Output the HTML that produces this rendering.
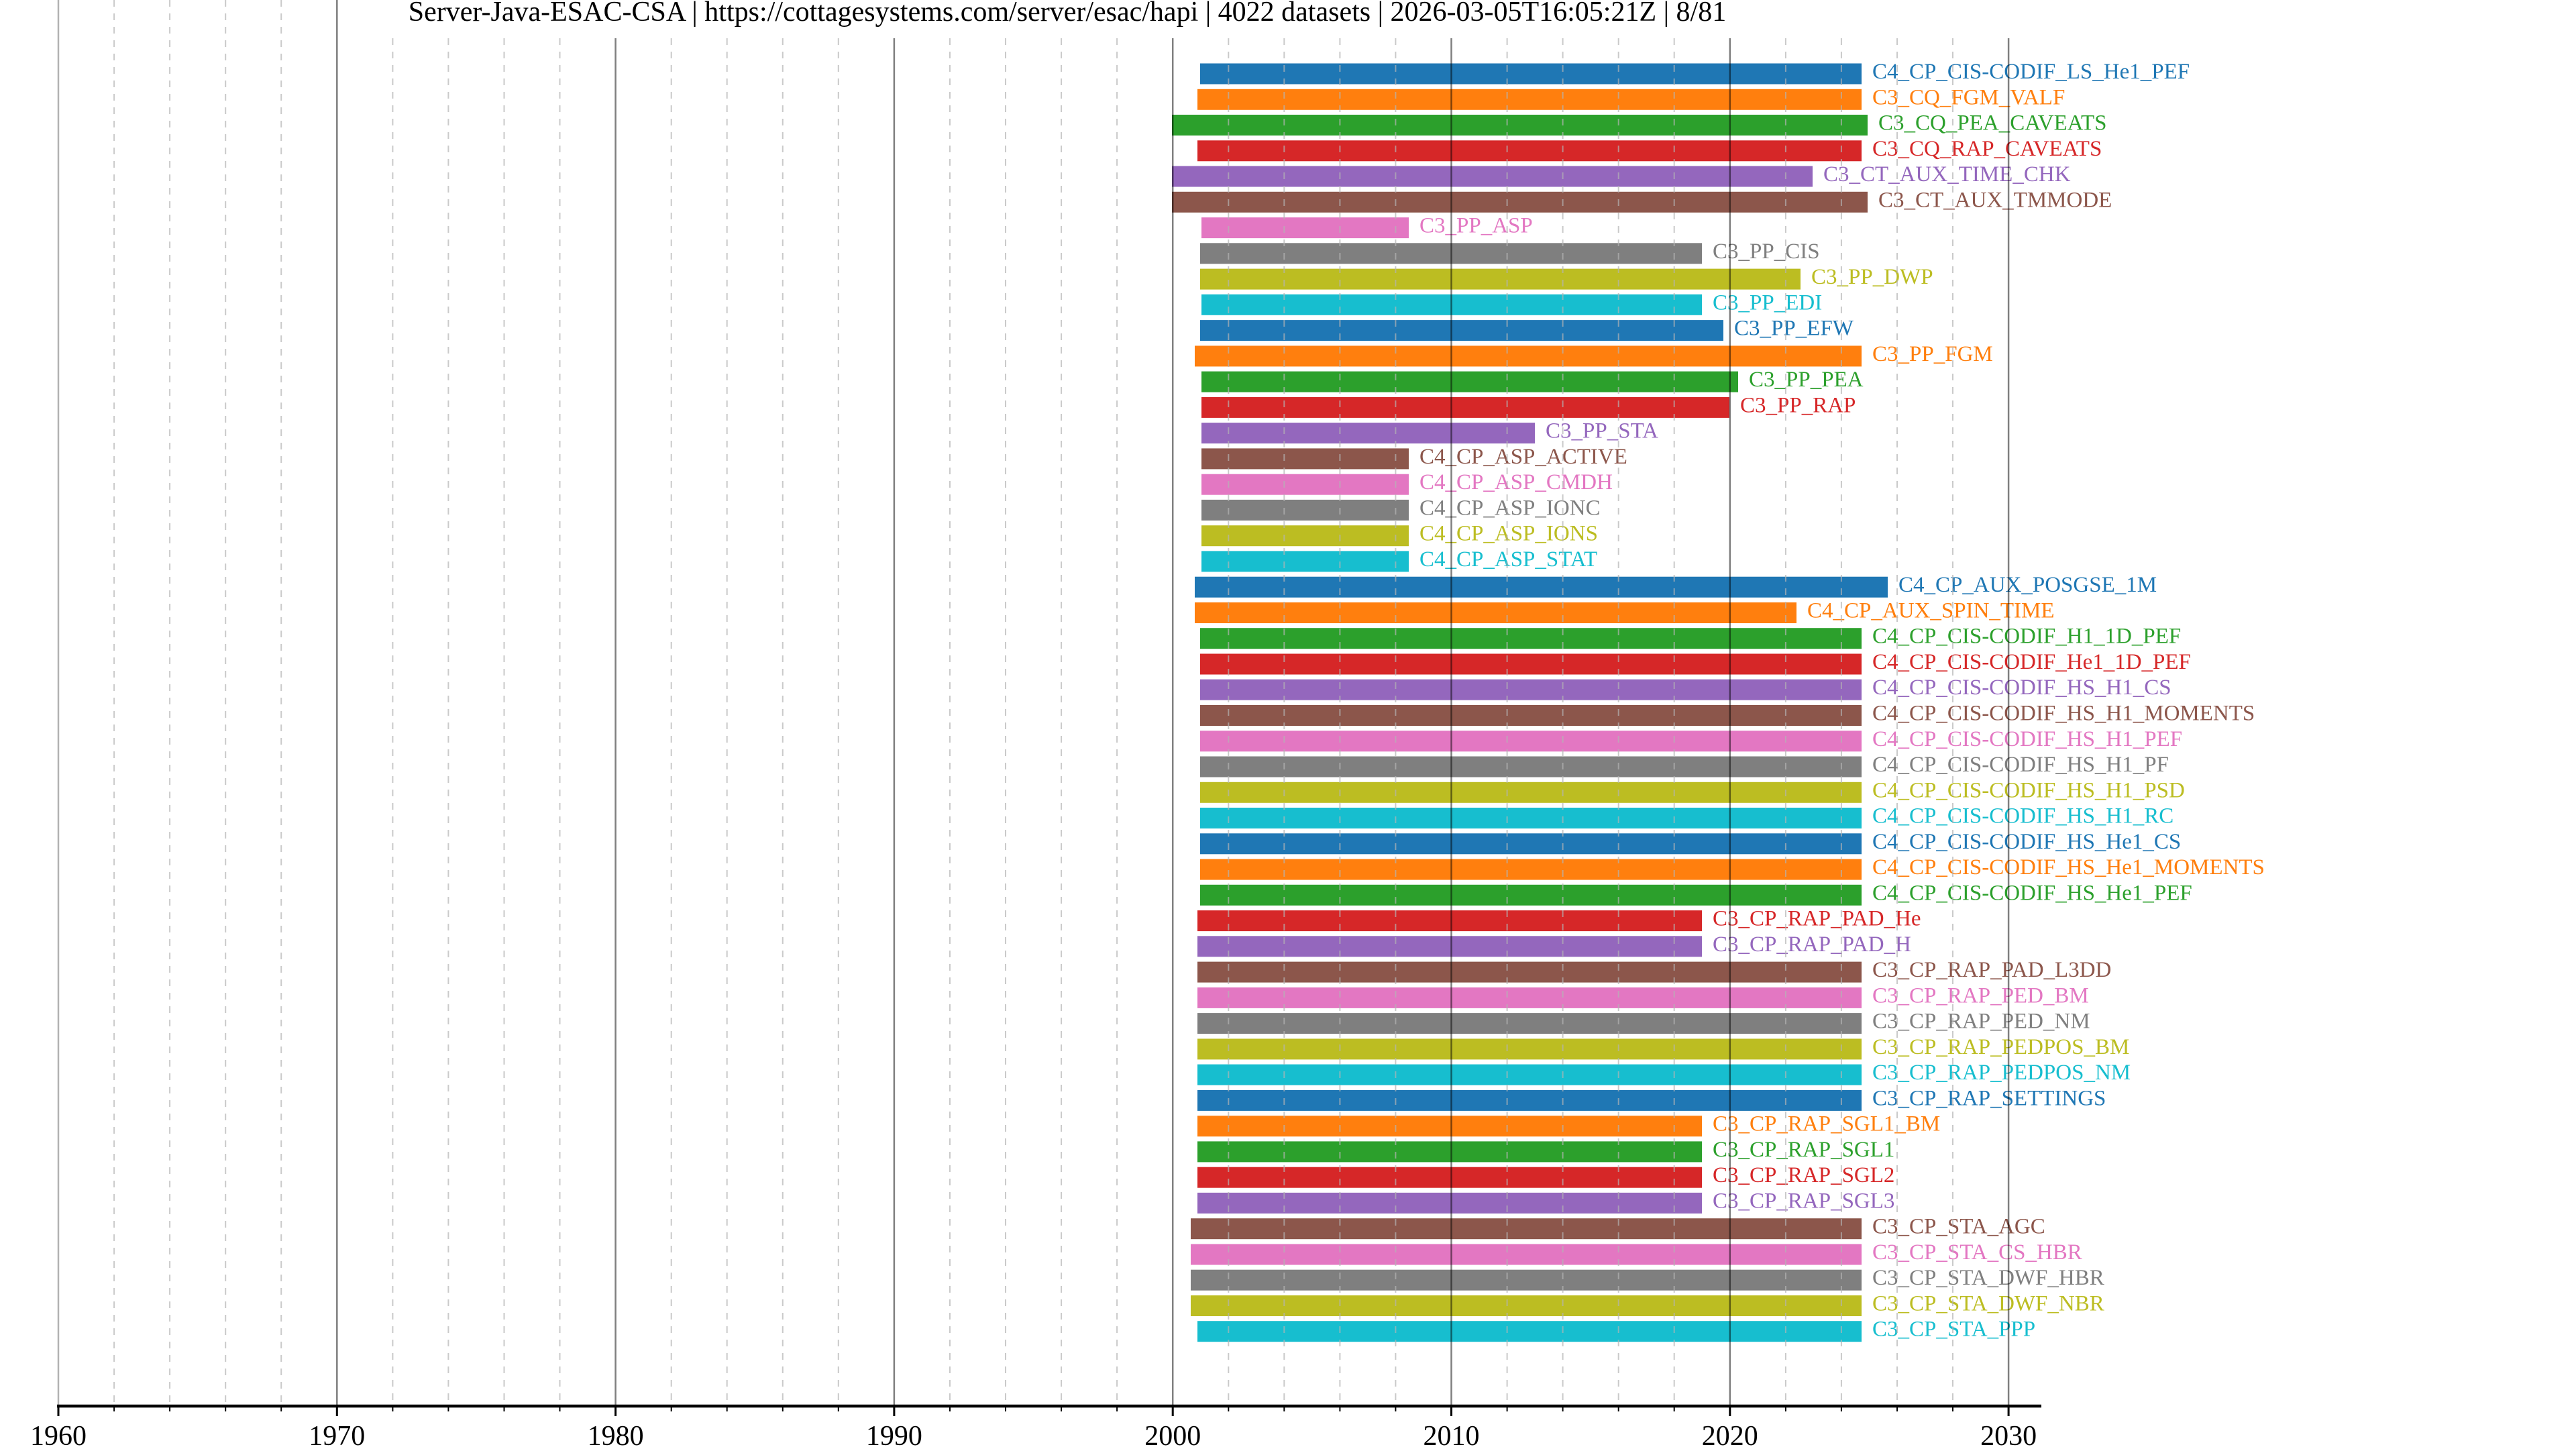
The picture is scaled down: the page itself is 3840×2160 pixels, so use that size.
<!DOCTYPE html>
<html><head><meta charset="utf-8"><style>html,body{margin:0;padding:0;background:#fff}svg{display:block}</style></head>
<body>
<svg width="3840" height="2160" viewBox="0 0 3840 2160" xmlns="http://www.w3.org/2000/svg" font-family="Liberation Serif, serif">
<rect width="3840" height="2160" fill="#fff"/>

<g font-size="33">
<g transform="translate(0,110)"><rect x="1789" y="-15.5" width="986" height="31" fill="#1f77b4"/><text x="2791" y="7" fill="#1f77b4">C4_CP_CIS-CODIF_LS_He1_PEF</text></g>
<g transform="translate(0,148.3)"><rect x="1785" y="-15.5" width="990" height="31" fill="#ff7f0e"/><text x="2791" y="7" fill="#ff7f0e">C3_CQ_FGM_VALF</text></g>
<g transform="translate(0,186.5)"><rect x="1747" y="-15.5" width="1037" height="31" fill="#2ca02c"/><text x="2800" y="7" fill="#2ca02c">C3_CQ_PEA_CAVEATS</text></g>
<g transform="translate(0,224.8)"><rect x="1785" y="-15.5" width="990" height="31" fill="#d62728"/><text x="2791" y="7" fill="#d62728">C3_CQ_RAP_CAVEATS</text></g>
<g transform="translate(0,263)"><rect x="1747" y="-15.5" width="955" height="31" fill="#9467bd"/><text x="2718" y="7" fill="#9467bd">C3_CT_AUX_TIME_CHK</text></g>
<g transform="translate(0,301.3)"><rect x="1747" y="-15.5" width="1037" height="31" fill="#8c564b"/><text x="2800" y="7" fill="#8c564b">C3_CT_AUX_TMMODE</text></g>
<g transform="translate(0,339.6)"><rect x="1791" y="-15.5" width="309" height="31" fill="#e377c2"/><text x="2116" y="7" fill="#e377c2">C3_PP_ASP</text></g>
<g transform="translate(0,377.8)"><rect x="1789" y="-15.5" width="748" height="31" fill="#7f7f7f"/><text x="2553" y="7" fill="#7f7f7f">C3_PP_CIS</text></g>
<g transform="translate(0,416.1)"><rect x="1789" y="-15.5" width="895" height="31" fill="#bcbd22"/><text x="2700" y="7" fill="#bcbd22">C3_PP_DWP</text></g>
<g transform="translate(0,454.3)"><rect x="1791" y="-15.5" width="746" height="31" fill="#17becf"/><text x="2553" y="7" fill="#17becf">C3_PP_EDI</text></g>
<g transform="translate(0,492.6)"><rect x="1789" y="-15.5" width="780" height="31" fill="#1f77b4"/><text x="2585" y="7" fill="#1f77b4">C3_PP_EFW</text></g>
<g transform="translate(0,530.9)"><rect x="1781" y="-15.5" width="994" height="31" fill="#ff7f0e"/><text x="2791" y="7" fill="#ff7f0e">C3_PP_FGM</text></g>
<g transform="translate(0,569.1)"><rect x="1791" y="-15.5" width="800" height="31" fill="#2ca02c"/><text x="2607" y="7" fill="#2ca02c">C3_PP_PEA</text></g>
<g transform="translate(0,607.4)"><rect x="1791" y="-15.5" width="787" height="31" fill="#d62728"/><text x="2594" y="7" fill="#d62728">C3_PP_RAP</text></g>
<g transform="translate(0,645.6)"><rect x="1791" y="-15.5" width="497" height="31" fill="#9467bd"/><text x="2304" y="7" fill="#9467bd">C3_PP_STA</text></g>
<g transform="translate(0,683.9)"><rect x="1791" y="-15.5" width="309" height="31" fill="#8c564b"/><text x="2116" y="7" fill="#8c564b">C4_CP_ASP_ACTIVE</text></g>
<g transform="translate(0,722.2)"><rect x="1791" y="-15.5" width="309" height="31" fill="#e377c2"/><text x="2116" y="7" fill="#e377c2">C4_CP_ASP_CMDH</text></g>
<g transform="translate(0,760.4)"><rect x="1791" y="-15.5" width="309" height="31" fill="#7f7f7f"/><text x="2116" y="7" fill="#7f7f7f">C4_CP_ASP_IONC</text></g>
<g transform="translate(0,798.7)"><rect x="1791" y="-15.5" width="309" height="31" fill="#bcbd22"/><text x="2116" y="7" fill="#bcbd22">C4_CP_ASP_IONS</text></g>
<g transform="translate(0,836.9)"><rect x="1791" y="-15.5" width="309" height="31" fill="#17becf"/><text x="2116" y="7" fill="#17becf">C4_CP_ASP_STAT</text></g>
<g transform="translate(0,875.2)"><rect x="1781" y="-15.5" width="1033" height="31" fill="#1f77b4"/><text x="2830" y="7" fill="#1f77b4">C4_CP_AUX_POSGSE_1M</text></g>
<g transform="translate(0,913.5)"><rect x="1781" y="-15.5" width="897" height="31" fill="#ff7f0e"/><text x="2694" y="7" fill="#ff7f0e">C4_CP_AUX_SPIN_TIME</text></g>
<g transform="translate(0,951.7)"><rect x="1789" y="-15.5" width="986" height="31" fill="#2ca02c"/><text x="2791" y="7" fill="#2ca02c">C4_CP_CIS-CODIF_H1_1D_PEF</text></g>
<g transform="translate(0,990)"><rect x="1789" y="-15.5" width="986" height="31" fill="#d62728"/><text x="2791" y="7" fill="#d62728">C4_CP_CIS-CODIF_He1_1D_PEF</text></g>
<g transform="translate(0,1028.2)"><rect x="1789" y="-15.5" width="986" height="31" fill="#9467bd"/><text x="2791" y="7" fill="#9467bd">C4_CP_CIS-CODIF_HS_H1_CS</text></g>
<g transform="translate(0,1066.5)"><rect x="1789" y="-15.5" width="986" height="31" fill="#8c564b"/><text x="2791" y="7" fill="#8c564b">C4_CP_CIS-CODIF_HS_H1_MOMENTS</text></g>
<g transform="translate(0,1104.8)"><rect x="1789" y="-15.5" width="986" height="31" fill="#e377c2"/><text x="2791" y="7" fill="#e377c2">C4_CP_CIS-CODIF_HS_H1_PEF</text></g>
<g transform="translate(0,1143)"><rect x="1789" y="-15.5" width="986" height="31" fill="#7f7f7f"/><text x="2791" y="7" fill="#7f7f7f">C4_CP_CIS-CODIF_HS_H1_PF</text></g>
<g transform="translate(0,1181.3)"><rect x="1789" y="-15.5" width="986" height="31" fill="#bcbd22"/><text x="2791" y="7" fill="#bcbd22">C4_CP_CIS-CODIF_HS_H1_PSD</text></g>
<g transform="translate(0,1219.5)"><rect x="1789" y="-15.5" width="986" height="31" fill="#17becf"/><text x="2791" y="7" fill="#17becf">C4_CP_CIS-CODIF_HS_H1_RC</text></g>
<g transform="translate(0,1257.8)"><rect x="1789" y="-15.5" width="986" height="31" fill="#1f77b4"/><text x="2791" y="7" fill="#1f77b4">C4_CP_CIS-CODIF_HS_He1_CS</text></g>
<g transform="translate(0,1296.1)"><rect x="1789" y="-15.5" width="986" height="31" fill="#ff7f0e"/><text x="2791" y="7" fill="#ff7f0e">C4_CP_CIS-CODIF_HS_He1_MOMENTS</text></g>
<g transform="translate(0,1334.3)"><rect x="1789" y="-15.5" width="986" height="31" fill="#2ca02c"/><text x="2791" y="7" fill="#2ca02c">C4_CP_CIS-CODIF_HS_He1_PEF</text></g>
<g transform="translate(0,1372.6)"><rect x="1785" y="-15.5" width="752" height="31" fill="#d62728"/><text x="2553" y="7" fill="#d62728">C3_CP_RAP_PAD_He</text></g>
<g transform="translate(0,1410.8)"><rect x="1785" y="-15.5" width="752" height="31" fill="#9467bd"/><text x="2553" y="7" fill="#9467bd">C3_CP_RAP_PAD_H</text></g>
<g transform="translate(0,1449.1)"><rect x="1785" y="-15.5" width="990" height="31" fill="#8c564b"/><text x="2791" y="7" fill="#8c564b">C3_CP_RAP_PAD_L3DD</text></g>
<g transform="translate(0,1487.4)"><rect x="1785" y="-15.5" width="990" height="31" fill="#e377c2"/><text x="2791" y="7" fill="#e377c2">C3_CP_RAP_PED_BM</text></g>
<g transform="translate(0,1525.6)"><rect x="1785" y="-15.5" width="990" height="31" fill="#7f7f7f"/><text x="2791" y="7" fill="#7f7f7f">C3_CP_RAP_PED_NM</text></g>
<g transform="translate(0,1563.9)"><rect x="1785" y="-15.5" width="990" height="31" fill="#bcbd22"/><text x="2791" y="7" fill="#bcbd22">C3_CP_RAP_PEDPOS_BM</text></g>
<g transform="translate(0,1602.1)"><rect x="1785" y="-15.5" width="990" height="31" fill="#17becf"/><text x="2791" y="7" fill="#17becf">C3_CP_RAP_PEDPOS_NM</text></g>
<g transform="translate(0,1640.4)"><rect x="1785" y="-15.5" width="990" height="31" fill="#1f77b4"/><text x="2791" y="7" fill="#1f77b4">C3_CP_RAP_SETTINGS</text></g>
<g transform="translate(0,1678.7)"><rect x="1785" y="-15.5" width="752" height="31" fill="#ff7f0e"/><text x="2553" y="7" fill="#ff7f0e">C3_CP_RAP_SGL1_BM</text></g>
<g transform="translate(0,1716.9)"><rect x="1785" y="-15.5" width="752" height="31" fill="#2ca02c"/><text x="2553" y="7" fill="#2ca02c">C3_CP_RAP_SGL1</text></g>
<g transform="translate(0,1755.2)"><rect x="1785" y="-15.5" width="752" height="31" fill="#d62728"/><text x="2553" y="7" fill="#d62728">C3_CP_RAP_SGL2</text></g>
<g transform="translate(0,1793.4)"><rect x="1785" y="-15.5" width="752" height="31" fill="#9467bd"/><text x="2553" y="7" fill="#9467bd">C3_CP_RAP_SGL3</text></g>
<g transform="translate(0,1831.7)"><rect x="1775" y="-15.5" width="1000" height="31" fill="#8c564b"/><text x="2791" y="7" fill="#8c564b">C3_CP_STA_AGC</text></g>
<g transform="translate(0,1870)"><rect x="1775" y="-15.5" width="1000" height="31" fill="#e377c2"/><text x="2791" y="7" fill="#e377c2">C3_CP_STA_CS_HBR</text></g>
<g transform="translate(0,1908.2)"><rect x="1775" y="-15.5" width="1000" height="31" fill="#7f7f7f"/><text x="2791" y="7" fill="#7f7f7f">C3_CP_STA_DWF_HBR</text></g>
<g transform="translate(0,1946.5)"><rect x="1775" y="-15.5" width="1000" height="31" fill="#bcbd22"/><text x="2791" y="7" fill="#bcbd22">C3_CP_STA_DWF_NBR</text></g>
<g transform="translate(0,1984.7)"><rect x="1785" y="-15.5" width="990" height="31" fill="#17becf"/><text x="2791" y="7" fill="#17becf">C3_CP_STA_PPP</text></g>
</g>

<!-- minor grid -->
<g stroke="#b4b4b4" stroke-opacity="0.7" stroke-width="2" stroke-dasharray="10,10">
<line x1="170.1" y1="0" x2="170.1" y2="2096"/><line x1="253.1" y1="0" x2="253.1" y2="2096"/><line x1="336.2" y1="0" x2="336.2" y2="2096"/><line x1="419.2" y1="0" x2="419.2" y2="2096"/>
<line x1="585.4" y1="57" x2="585.4" y2="2096"/><line x1="668.4" y1="57" x2="668.4" y2="2096"/><line x1="751.5" y1="57" x2="751.5" y2="2096"/><line x1="834.5" y1="57" x2="834.5" y2="2096"/>
<line x1="1000.7" y1="57" x2="1000.7" y2="2096"/><line x1="1083.7" y1="57" x2="1083.7" y2="2096"/><line x1="1166.8" y1="57" x2="1166.8" y2="2096"/><line x1="1249.8" y1="57" x2="1249.8" y2="2096"/>
<line x1="1416" y1="57" x2="1416" y2="2096"/><line x1="1499" y1="57" x2="1499" y2="2096"/><line x1="1582.1" y1="57" x2="1582.1" y2="2096"/><line x1="1665.1" y1="57" x2="1665.1" y2="2096"/>
<line x1="1831.3" y1="57" x2="1831.3" y2="2096"/><line x1="1914.3" y1="57" x2="1914.3" y2="2096"/><line x1="1997.4" y1="57" x2="1997.4" y2="2096"/><line x1="2080.4" y1="57" x2="2080.4" y2="2096"/>
<line x1="2246.6" y1="57" x2="2246.6" y2="2096"/><line x1="2329.6" y1="57" x2="2329.6" y2="2096"/><line x1="2412.7" y1="57" x2="2412.7" y2="2096"/><line x1="2495.7" y1="57" x2="2495.7" y2="2096"/>
<line x1="2661.9" y1="57" x2="2661.9" y2="2096"/><line x1="2744.9" y1="57" x2="2744.9" y2="2096"/><line x1="2828" y1="57" x2="2828" y2="2096"/><line x1="2911" y1="57" x2="2911" y2="2096"/>
</g>
<!-- major grid -->
<g stroke="#000" stroke-opacity="0.5" stroke-width="2.5">
<line x1="87" y1="0" x2="87" y2="2096" stroke-opacity="0.3"/>
<line x1="502.3" y1="0" x2="502.3" y2="2096"/><line x1="917.6" y1="57" x2="917.6" y2="2096"/><line x1="1332.9" y1="57" x2="1332.9" y2="2096"/>
<line x1="1748.2" y1="57" x2="1748.2" y2="2096"/><line x1="2163.5" y1="57" x2="2163.5" y2="2096"/><line x1="2578.8" y1="57" x2="2578.8" y2="2096"/><line x1="2994.1" y1="57" x2="2994.1" y2="2096"/>
</g>
<text x="1591" y="31" font-size="42" text-anchor="middle" fill="#000">Server-Java-ESAC-CSA | https://cottagesystems.com/server/esac/hapi | 4022 datasets | 2026-03-05T16:05:21Z | 8/81</text>
<!-- axis -->
<line x1="85" y1="2096" x2="3043" y2="2096" stroke="#000" stroke-width="4.5"/>
<g stroke="#000" stroke-width="3">
<line x1="87" y1="2096" x2="87" y2="2111"/><line x1="502.3" y1="2096" x2="502.3" y2="2111"/><line x1="917.6" y1="2096" x2="917.6" y2="2111"/><line x1="1332.9" y1="2096" x2="1332.9" y2="2111"/>
<line x1="1748.2" y1="2096" x2="1748.2" y2="2111"/><line x1="2163.5" y1="2096" x2="2163.5" y2="2111"/><line x1="2578.8" y1="2096" x2="2578.8" y2="2111"/><line x1="2994.1" y1="2096" x2="2994.1" y2="2111"/>
</g>
<g stroke="#000" stroke-width="2">
<line x1="170.1" y1="2096" x2="170.1" y2="2104"/><line x1="253.1" y1="2096" x2="253.1" y2="2104"/><line x1="336.2" y1="2096" x2="336.2" y2="2104"/><line x1="419.2" y1="2096" x2="419.2" y2="2104"/>
<line x1="585.4" y1="2096" x2="585.4" y2="2104"/><line x1="668.4" y1="2096" x2="668.4" y2="2104"/><line x1="751.5" y1="2096" x2="751.5" y2="2104"/><line x1="834.5" y1="2096" x2="834.5" y2="2104"/>
<line x1="1000.7" y1="2096" x2="1000.7" y2="2104"/><line x1="1083.7" y1="2096" x2="1083.7" y2="2104"/><line x1="1166.8" y1="2096" x2="1166.8" y2="2104"/><line x1="1249.8" y1="2096" x2="1249.8" y2="2104"/>
<line x1="1416" y1="2096" x2="1416" y2="2104"/><line x1="1499" y1="2096" x2="1499" y2="2104"/><line x1="1582.1" y1="2096" x2="1582.1" y2="2104"/><line x1="1665.1" y1="2096" x2="1665.1" y2="2104"/>
<line x1="1831.3" y1="2096" x2="1831.3" y2="2104"/><line x1="1914.3" y1="2096" x2="1914.3" y2="2104"/><line x1="1997.4" y1="2096" x2="1997.4" y2="2104"/><line x1="2080.4" y1="2096" x2="2080.4" y2="2104"/>
<line x1="2246.6" y1="2096" x2="2246.6" y2="2104"/><line x1="2329.6" y1="2096" x2="2329.6" y2="2104"/><line x1="2412.7" y1="2096" x2="2412.7" y2="2104"/><line x1="2495.7" y1="2096" x2="2495.7" y2="2104"/>
<line x1="2661.9" y1="2096" x2="2661.9" y2="2104"/><line x1="2744.9" y1="2096" x2="2744.9" y2="2104"/><line x1="2828" y1="2096" x2="2828" y2="2104"/><line x1="2911" y1="2096" x2="2911" y2="2104"/>
</g>
<g font-size="42" text-anchor="middle" fill="#000">
<text x="87" y="2154">1960</text><text x="502.3" y="2154">1970</text><text x="917.6" y="2154">1980</text><text x="1332.9" y="2154">1990</text>
<text x="1748.2" y="2154">2000</text><text x="2163.5" y="2154">2010</text><text x="2578.8" y="2154">2020</text><text x="2994.1" y="2154">2030</text>
</g>
</svg>
</body></html>
